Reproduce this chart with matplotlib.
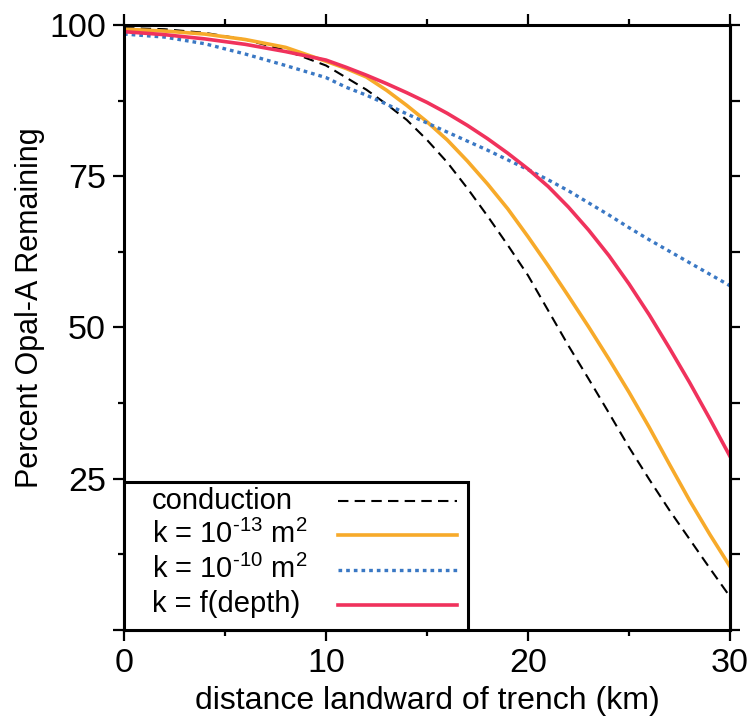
import numpy as np
import matplotlib.pyplot as plt
from matplotlib.ticker import MultipleLocator
from matplotlib.patches import Rectangle

plt.rcParams['font.family'] = ['Liberation Sans', 'DejaVu Sans']
plt.rcParams['mathtext.fontset'] = 'custom'
plt.rcParams['mathtext.rm'] = 'Liberation Sans'

# distance landward of trench (km)
distance = [0, 2, 4, 6, 8, 10, 11, 12, 13, 14, 15, 16, 17, 18, 19, 20,
            21, 22, 23, 24, 25, 26, 27, 28, 29, 30]

# percent opal-A remaining
conduction = [99.5, 99.3, 98.7, 97.6, 95.8, 93.3, 91.3, 89.3, 86.9, 84.3, 81.0, 77.3, 73.0, 68.4, 63.6, 58.6,
              52.8, 47.0, 41.5, 35.9, 30.2, 24.9, 19.8, 15.0, 10.2, 5.5]
k_1e13 = [99.3, 99.0, 98.5, 97.6, 96.3, 94.0, 92.8, 91.4, 89.2, 86.7, 84.0, 81.0, 77.5, 73.7, 69.6, 65.0,
          60.2, 55.2, 50.1, 44.8, 39.3, 33.5, 27.4, 21.4, 15.8, 10.5]
k_1e10 = [98.5, 98.0, 96.9, 95.2, 93.3, 91.3, 89.7, 88.4, 86.9, 85.3, 83.8, 82.3, 80.8, 79.3, 77.7, 76.1,
          74.4, 72.6, 70.6, 68.6, 66.5, 64.5, 62.6, 60.7, 58.8, 56.9]
k_depth = [98.9, 98.4, 97.7, 96.8, 95.6, 94.2, 93.0, 91.7, 90.3, 88.8, 87.2, 85.4, 83.4, 81.2, 78.8, 76.2,
           73.3, 69.9, 66.1, 61.9, 57.2, 52.1, 46.6, 40.9, 34.9, 28.7]

labels = ['conduction',
          'k = 10$^{\\mathregular{\u2010}13}$ m$^{\\mathregular{2}}$',
          'k = 10$^{\\mathregular{\u2010}10}$ m$^{\\mathregular{2}}$',
          'k = f(depth)']
styles = [dict(color='black', lw=1.5, ls=(0, (5, 3))),
          dict(color='#f7aa2a', lw=2.6, ls='-'),
          dict(color='#3a78c4', lw=2.4, ls=(0, (1.1, 1.2))),
          dict(color='#f0325c', lw=2.6, ls='-')]

fig = plt.figure(figsize=(7.54, 7.22), dpi=100)
ax = fig.add_axes([0.1645, 0.1274, 0.8037, 0.838])

for series, st in zip([conduction, k_1e13, k_1e10, k_depth], styles):
    ax.plot(distance, series, **st)

ax.set_xlim(0, 30)
ax.set_ylim(0, 100)
ax.xaxis.set_major_locator(MultipleLocator(10))
ax.xaxis.set_minor_locator(MultipleLocator(5))
ax.yaxis.set_minor_locator(MultipleLocator(12.5))
ax.set_yticks([0, 25, 50, 75, 100])
ax.set_yticklabels(['', '25', '50', '75', '100'])

for s in ax.spines.values():
    s.set_linewidth(2.2)
ax.tick_params(which='both', direction='out', width=1.6, top=True, right=False, labelsize=24.5, pad=5)
ax.tick_params(which='major', length=8)
ax.tick_params(which='minor', length=4.5)

sec = ax.secondary_yaxis('right')
sec.set_yticks(np.arange(0, 101, 12.5))
sec.set_yticklabels([])
sec.tick_params(direction='out', length=7, width=1.6)
sec.spines['right'].set_linewidth(2.2)

ax.set_xlabel('distance landward of trench (km)', fontsize=23, labelpad=5)
ax.set_ylabel('Percent Opal-A Remaining', fontsize=22)
ax.yaxis.set_label_coords(-0.13, 0.532)

# legend box drawn by hand so text is left aligned and handles sit on the right
ax.add_patch(Rectangle((0, 0), 0.5677, 0.2446, transform=ax.transAxes, facecolor='white',
                       edgecolor='black', lw=2.2, zorder=5, clip_on=False))
rows = [0.200, 0.1435, 0.086, 0.029]
for lab, st, yb in zip(labels, styles, rows):
    ax.text(0.046, yb, lab, transform=ax.transAxes, fontsize=21, va='baseline', ha='left', zorder=6)
    ax.plot([0.353, 0.549], [yb + 0.013, yb + 0.013], transform=ax.transAxes, zorder=6, **st)

fig.savefig('out.png', dpi=100)
